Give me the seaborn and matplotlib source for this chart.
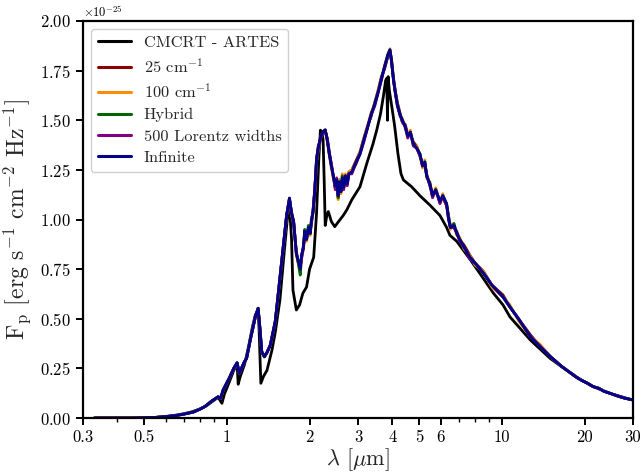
import numpy as np
import pandas as pd
import matplotlib
matplotlib.use("Agg")
import matplotlib.pyplot as plt
import matplotlib.ticker as mticker
import seaborn as sns

# ---------------- data ----------------
labels = ["CMCRT - ARTES", r"25 cm$^{-1}$", r"100 cm$^{-1}$", "Hybrid",
          "500 Lorentz widths", "Infinite"]
colors = ["black", "darkred", "darkorange", "darkgreen", "purple", "darkblue"]

wl_ref = [0.33, 0.45, 0.55, 0.6, 0.65, 0.7, 0.75, 0.8, 0.85, 0.9, 0.93, 0.96, 0.98,
          1.02, 1.06, 1.09, 1.10, 1.12, 1.16, 1.2, 1.24, 1.27, 1.30, 1.31, 1.33, 1.36,
          1.40, 1.46, 1.50, 1.56, 1.62, 1.67, 1.69, 1.72, 1.74, 1.79, 1.84, 1.89, 1.95,
          2.0, 2.07, 2.12, 2.16, 2.19, 2.22, 2.24, 2.26, 2.28, 2.31, 2.34, 2.40, 2.47,
          2.55, 2.65, 2.73, 2.85, 3.05, 3.23, 3.40, 3.51, 3.62, 3.71, 3.78, 3.81, 3.83,
          3.84, 3.86, 3.90, 4.0, 4.08, 4.19, 4.30, 4.39, 4.7, 5.04, 5.5, 5.96, 6.3,
          6.48, 6.86, 7.66, 8.5, 9.31, 10.1, 10.7, 12.7, 15.0, 18.7, 21.5, 24.8, 30.0]
f_cmcrt = [0.0, 0.0, 0.003, 0.008, 0.014, 0.022, 0.032, 0.046, 0.065, 0.09, 0.104, 0.074,
           0.12, 0.18, 0.24, 0.27, 0.17, 0.21, 0.27, 0.36, 0.46, 0.52, 0.545, 0.45, 0.175,
           0.21, 0.24, 0.343, 0.43, 0.594, 0.846, 1.04, 1.065, 0.9, 0.645, 0.544, 0.57,
           0.628, 0.66, 0.75, 0.81, 1.03, 1.30, 1.45, 1.44, 1.40, 1.2, 0.97, 1.02, 1.04,
           0.99, 0.964, 0.99, 1.02, 1.048, 1.10, 1.165, 1.283, 1.38, 1.451, 1.53, 1.62,
           1.70, 1.71, 1.60, 1.50, 1.72, 1.65, 1.55, 1.468, 1.333, 1.23, 1.199, 1.165,
           1.12, 1.07, 1.02, 0.96, 0.92, 0.89, 0.80, 0.71, 0.63, 0.57, 0.51, 0.393,
           0.30, 0.205, 0.158, 0.124, 0.09]

wl = [0.33, 0.45, 0.55, 0.6, 0.65, 0.7, 0.755, 0.8, 0.833, 0.88, 0.93, 0.95, 0.97, 1.02,
      1.06, 1.09, 1.11, 1.13, 1.16, 1.18, 1.22, 1.27, 1.30, 1.32, 1.34, 1.37, 1.40, 1.44,
      1.50, 1.53, 1.60, 1.65, 1.69, 1.72, 1.75, 1.79, 1.82, 1.85, 1.87, 1.90, 1.92, 1.95,
      1.98, 2.01, 2.03, 2.06, 2.09, 2.12, 2.15, 2.20, 2.25, 2.28, 2.32, 2.36, 2.40, 2.44,
      2.48, 2.51, 2.54, 2.57, 2.60, 2.63, 2.66, 2.70, 2.74, 2.78, 2.85, 2.96, 3.05, 3.15,
      3.23, 3.35, 3.45, 3.55, 3.65, 3.75, 3.85, 3.92, 3.97, 4.04, 4.10, 4.17, 4.26, 4.35,
      4.45, 4.55, 4.65, 4.77, 4.9, 5.04, 5.15, 5.25, 5.33, 5.48, 5.6, 5.75, 5.96, 6.1,
      6.3, 6.4, 6.5, 6.7, 6.86, 7.03, 7.3, 7.66, 8.0, 8.57, 9.2, 10.1, 10.7, 11.5, 12.7,
      13.8, 15.0, 16.5, 18.7, 19.5, 20.5, 21.5, 22.5, 23.5, 24.8, 26.5, 28.0, 30.0]

f_infinite = [0.0, 0.0, 0.003, 0.007, 0.012, 0.02, 0.03, 0.045, 0.058, 0.085, 0.107, 0.10,
              0.141, 0.20, 0.25, 0.278, 0.225, 0.25, 0.284, 0.30, 0.40, 0.51, 0.553, 0.45,
              0.334, 0.309, 0.33, 0.368, 0.485, 0.594, 0.846, 1.02, 1.107, 1.03, 0.99, 0.83,
              0.79, 0.75, 0.82, 0.86, 0.94, 0.90, 0.96, 0.93, 0.99, 1.04, 1.15, 1.30, 1.36,
              1.42, 1.445, 1.451, 1.40, 1.33, 1.27, 1.22, 1.17, 1.20, 1.12, 1.19, 1.14, 1.21,
              1.16, 1.22, 1.18, 1.23, 1.24, 1.29, 1.33, 1.40, 1.45, 1.53, 1.58, 1.64, 1.71,
              1.77, 1.83, 1.855, 1.80, 1.70, 1.64, 1.58, 1.53, 1.50, 1.47, 1.42, 1.44, 1.38,
              1.36, 1.33, 1.27, 1.29, 1.22, 1.18, 1.12, 1.15, 1.09, 1.12, 1.08, 1.01, 0.96,
              0.97, 0.93, 0.90, 0.86, 0.81, 0.78, 0.73, 0.67, 0.61, 0.56, 0.50, 0.41, 0.36,
              0.31, 0.26, 0.205, 0.19, 0.175, 0.158, 0.15, 0.135, 0.124, 0.11, 0.10, 0.091]

f_25 = [0.0, 0.0, 0.003, 0.007, 0.012, 0.02, 0.03, 0.045, 0.058, 0.085, 0.107, 0.10,
        0.141, 0.20, 0.25, 0.279, 0.226, 0.25, 0.285, 0.30, 0.40, 0.51, 0.552, 0.45,
        0.336, 0.31, 0.33, 0.369, 0.486, 0.596, 0.85, 1.02, 1.10, 1.04, 0.98, 0.84,
        0.78, 0.76, 0.81, 0.87, 0.93, 0.91, 0.95, 0.94, 0.98, 1.05, 1.16, 1.29, 1.37,
        1.41, 1.44, 1.445, 1.41, 1.34, 1.28, 1.21, 1.18, 1.19, 1.13, 1.20, 1.15, 1.20,
        1.17, 1.21, 1.19, 1.24, 1.25, 1.30, 1.34, 1.41, 1.46, 1.52, 1.59, 1.65, 1.72,
        1.76, 1.82, 1.85, 1.81, 1.71, 1.65, 1.59, 1.54, 1.49, 1.48, 1.43, 1.43, 1.39,
        1.37, 1.32, 1.28, 1.28, 1.23, 1.17, 1.13, 1.14, 1.10, 1.11, 1.07, 1.02, 0.97,
        0.96, 0.94, 0.90, 0.87, 0.82, 0.78, 0.74, 0.67, 0.62, 0.56, 0.50, 0.42, 0.36,
        0.31, 0.26, 0.207, 0.19, 0.176, 0.158, 0.151, 0.135, 0.124, 0.11, 0.10, 0.091]

f_100 = [0.0, 0.0, 0.003, 0.007, 0.012, 0.02, 0.03, 0.045, 0.058, 0.085, 0.107, 0.10,
         0.141, 0.20, 0.25, 0.278, 0.224, 0.25, 0.284, 0.30, 0.40, 0.51, 0.553, 0.45,
         0.333, 0.307, 0.33, 0.367, 0.485, 0.594, 0.846, 1.02, 1.105, 1.02, 0.99, 0.82,
         0.78, 0.73, 0.81, 0.85, 0.93, 0.89, 0.95, 0.92, 0.98, 1.03, 1.14, 1.29, 1.35,
         1.42, 1.44, 1.45, 1.39, 1.32, 1.26, 1.21, 1.16, 1.19, 1.10, 1.20, 1.13, 1.23,
         1.15, 1.23, 1.17, 1.24, 1.25, 1.28, 1.34, 1.40, 1.46, 1.54, 1.58, 1.65, 1.71,
         1.78, 1.83, 1.86, 1.80, 1.71, 1.63, 1.59, 1.52, 1.51, 1.46, 1.43, 1.45, 1.37,
         1.37, 1.33, 1.26, 1.30, 1.21, 1.19, 1.11, 1.16, 1.08, 1.13, 1.07, 1.02, 0.95,
         0.98, 0.92, 0.91, 0.85, 0.82, 0.77, 0.74, 0.66, 0.61, 0.57, 0.49, 0.41, 0.37,
         0.31, 0.26, 0.204, 0.19, 0.174, 0.158, 0.15, 0.135, 0.124, 0.11, 0.10, 0.091]

f_hybrid = [0.0, 0.0, 0.003, 0.007, 0.012, 0.02, 0.03, 0.045, 0.058, 0.085, 0.107, 0.10,
            0.141, 0.20, 0.25, 0.278, 0.225, 0.25, 0.284, 0.30, 0.40, 0.51, 0.553, 0.45,
            0.334, 0.309, 0.33, 0.368, 0.485, 0.594, 0.846, 1.02, 1.108, 1.03, 0.99, 0.83,
            0.78, 0.72, 0.82, 0.86, 0.95, 0.90, 0.97, 0.93, 1.00, 1.04, 1.15, 1.30, 1.36,
            1.42, 1.445, 1.452, 1.40, 1.33, 1.27, 1.22, 1.16, 1.20, 1.11, 1.19, 1.14, 1.22,
            1.16, 1.22, 1.18, 1.23, 1.24, 1.29, 1.33, 1.40, 1.45, 1.53, 1.58, 1.64, 1.71,
            1.77, 1.83, 1.855, 1.80, 1.70, 1.64, 1.58, 1.53, 1.50, 1.47, 1.42, 1.44, 1.38,
            1.36, 1.33, 1.27, 1.29, 1.22, 1.18, 1.12, 1.15, 1.09, 1.12, 1.08, 1.01, 0.96,
            0.98, 0.93, 0.90, 0.86, 0.81, 0.78, 0.73, 0.67, 0.61, 0.56, 0.50, 0.41, 0.36,
            0.31, 0.26, 0.205, 0.19, 0.175, 0.158, 0.15, 0.135, 0.124, 0.11, 0.10, 0.091]

f_500 = [0.0, 0.0, 0.003, 0.007, 0.012, 0.02, 0.03, 0.045, 0.058, 0.085, 0.107, 0.10,
         0.141, 0.20, 0.25, 0.278, 0.225, 0.25, 0.284, 0.30, 0.40, 0.51, 0.553, 0.45,
         0.334, 0.308, 0.33, 0.368, 0.485, 0.594, 0.846, 1.02, 1.107, 1.03, 0.99, 0.83,
         0.79, 0.76, 0.80, 0.86, 0.92, 0.90, 0.95, 0.93, 0.98, 1.05, 1.15, 1.31, 1.36,
         1.42, 1.445, 1.451, 1.40, 1.33, 1.28, 1.22, 1.15, 1.21, 1.12, 1.18, 1.14, 1.20,
         1.15, 1.22, 1.17, 1.23, 1.23, 1.29, 1.33, 1.39, 1.45, 1.53, 1.57, 1.64, 1.70,
         1.77, 1.82, 1.85, 1.80, 1.70, 1.64, 1.57, 1.53, 1.49, 1.47, 1.41, 1.44, 1.37,
         1.36, 1.32, 1.27, 1.28, 1.22, 1.17, 1.11, 1.15, 1.08, 1.12, 1.07, 1.00, 0.96,
         0.96, 0.93, 0.89, 0.86, 0.80, 0.78, 0.73, 0.67, 0.61, 0.56, 0.50, 0.41, 0.36,
         0.31, 0.26, 0.205, 0.19, 0.175, 0.158, 0.15, 0.135, 0.124, 0.11, 0.10, 0.091]

xticks = [0.3, 0.5, 1, 2, 3, 4, 5, 6, 10, 20, 30]
xticklabels = ["0.3", "0.5", "1", "2", "3", "4", "5", "6", "10", "20", "30"]
scale = 1e-25

# ---------------- build table ----------------
series_x = [wl_ref, wl, wl, wl, wl, wl]
series_y = [f_cmcrt, f_25, f_100, f_hybrid, f_500, f_infinite]
frames = []
for lab, xs, ys in zip(labels, series_x, series_y):
    frames.append(pd.DataFrame({"wl": xs, "flux": np.array(ys) * scale, "model": lab}))
df = pd.concat(frames, ignore_index=True)

# ---------------- style ----------------
sns.set_theme(style="ticks")
plt.rcParams.update({
    "font.family": ["cmr10", "DejaVu Serif"],
    "mathtext.fontset": "cm",
    "axes.formatter.use_mathtext": True,
    "axes.unicode_minus": True,
    "axes.linewidth": 1.6,
    "axes.edgecolor": "black",
    "xtick.color": "black",
    "ytick.color": "black",
    "xtick.direction": "out",
    "ytick.direction": "out",
    "xtick.major.width": 1.4,
    "ytick.major.width": 1.4,
    "xtick.minor.width": 1.0,
    "xtick.major.size": 5,
    "ytick.major.size": 5,
    "xtick.minor.size": 3,
})

fig = plt.figure(figsize=(6.44, 4.76), dpi=100)
ax = fig.add_axes([0.1289, 0.1218, 0.8540, 0.8341])

palette = dict(zip(labels, colors))
sns.lineplot(data=df, x="wl", y="flux", hue="model", hue_order=labels,
             palette=palette, estimator=None, sort=False, linewidth=2.0,
             ax=ax, legend=False)

ax.set_xscale("log")
ax.set_xlim(0.3, 30)
ax.set_ylim(0, 2e-25)
ax.xaxis.set_major_locator(mticker.FixedLocator(xticks))
ax.xaxis.set_major_formatter(mticker.FixedFormatter(xticklabels))
ax.xaxis.set_minor_locator(mticker.LogLocator(base=10, subs=np.arange(2, 10)))
ax.xaxis.set_minor_formatter(mticker.NullFormatter())
ax.yaxis.set_major_locator(mticker.MultipleLocator(0.25e-25))
fmt = mticker.ScalarFormatter(useMathText=True)
fmt.set_powerlimits((0, 0))
ax.yaxis.set_major_formatter(fmt)
ax.tick_params(axis="both", which="major", labelsize=12)
ax.yaxis.get_offset_text().set_fontsize(9)

ax.set_xlabel(r"$\lambda$ [$\mu$m]", fontsize=16, labelpad=1)
ax.set_ylabel(r"F$_\mathrm{p}$ [erg s$^{-1}$ cm$^{-2}$ Hz$^{-1}$]", fontsize=17, labelpad=5)

handles = [plt.Line2D([], [], color=c, lw=2.2) for c in colors]
ax.legend(handles, labels, loc="upper left", fontsize=11.8, frameon=True,
          fancybox=True, framealpha=1, edgecolor="#d0d0d0",
          borderaxespad=0.5, handlelength=2.0, labelspacing=0.42)

fig.savefig("out.png", dpi=100)
